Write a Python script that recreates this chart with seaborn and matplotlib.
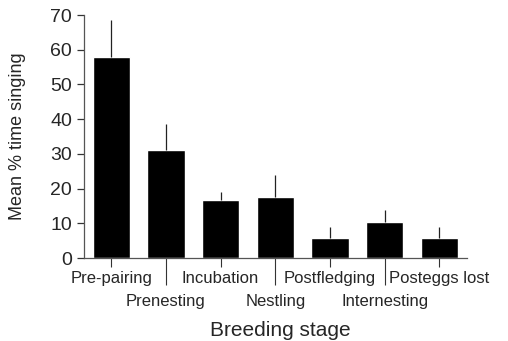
import matplotlib
matplotlib.use("Agg")
import matplotlib.pyplot as plt
import seaborn as sns
import pandas as pd
from matplotlib.ticker import FixedLocator, FixedFormatter

stages = ["Pre-pairing", "Prenesting", "Incubation", "Nestling",
          "Postfledging", "Internesting", "Posteggs lost"]
mean_singing = [58.0, 31.0, 16.6, 17.5, 5.8, 10.5, 5.8]
se_singing = [10.6, 7.6, 2.3, 6.5, 3.1, 3.4, 3.1]

df = pd.DataFrame({"stage": stages, "mean": mean_singing, "se": se_singing})

sns.set_style("white")
plt.rcParams['font.family'] = ['Liberation Sans', 'DejaVu Sans']

fig = plt.figure(figsize=(5.08, 3.41), dpi=100)
ax = fig.add_axes([0.165, 0.243, 0.754, 0.713])

sns.barplot(data=df, x="stage", y="mean", color="black", width=0.68,
            saturation=1, errorbar=None, ax=ax)
pos = list(range(len(stages)))
ax.errorbar(pos, df["mean"], yerr=[[0] * len(stages), df["se"]], fmt="none",
            ecolor="#222222", elinewidth=0.9, capsize=0)

ax.set_ylim(0, 70)
ax.set_xlim(-0.5, 6.5)
ax.set_yticks(range(0, 71, 10))
ax.tick_params(axis="y", labelsize=14, length=5, width=0.9, pad=3.5,
               direction="out", left=True, color="#333333")

# alternating labels: even ones on a short tick, odd ones on a long tick
ax.xaxis.set_major_locator(FixedLocator(pos[0::2]))
ax.xaxis.set_major_formatter(FixedFormatter(stages[0::2]))
ax.xaxis.set_minor_locator(FixedLocator(pos[1::2]))
ax.xaxis.set_minor_formatter(FixedFormatter(stages[1::2]))
ax.tick_params(axis="x", which="major", length=6.5, width=0.8, pad=3,
               labelsize=12, bottom=True, color="#333333")
ax.tick_params(axis="x", which="minor", length=19.5, width=0.8, pad=6,
               labelsize=12, bottom=True, color="#333333")

for s in ["top", "right"]:
    ax.spines[s].set_visible(False)
for s in ["left", "bottom"]:
    ax.spines[s].set_color("#555555")
    ax.spines[s].set_linewidth(0.9)

ax.set_xlabel("Breeding stage", fontsize=15)
ax.xaxis.set_label_coords(0.512, -0.26)
ax.set_ylabel("Mean % time singing", fontsize=13)
ax.yaxis.set_label_coords(-0.15, 0.5)

fig.savefig("out.png", dpi=100)
